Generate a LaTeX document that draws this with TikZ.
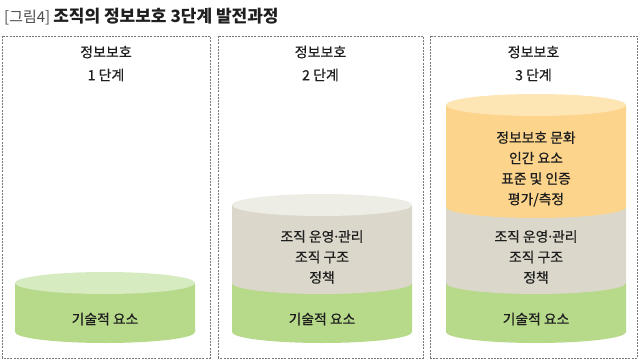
\documentclass[tikz,border=0pt]{standalone}
\usepackage{fontspec}
\setmainfont{Noto Sans CJK KR}
\newfontfamily\medfont[FakeBold=0.6]{Noto Sans CJK KR}
\usepackage{tikz}
\usetikzlibrary{positioning}
\definecolor{techgreen}{RGB}{183,217,138}
\definecolor{techgreentop}{RGB}{215,235,193}
\definecolor{orggray}{RGB}{219,216,203}
\definecolor{orggraytop}{RGB}{238,237,229}
\definecolor{cultureorange}{RGB}{253,212,140}
\definecolor{cultureorangetop}{RGB}{254,229,180}
\definecolor{framegray}{RGB}{120,120,120}
\definecolor{textdark}{RGB}{30,30,30}

% cylinder layer: centre x, top y, bottom y, colour
\newcommand{\cylside}[4]{\fill[#4] (#1-90,#2) -- (#1-90,#3) arc[start angle=180, end angle=360, x radius=90, y radius=11] -- (#1+90,#2) -- cycle;}
\newcommand{\cyltop}[3]{\fill[#3] (#1,#2) ellipse[x radius=90, y radius=11];}
\newcommand{\middot}{\kern-2pt·\kern-2pt}

\begin{document}
\begin{tikzpicture}[
			x=1pt, y=1pt,
			stagebox/.style={draw=framegray, line width=0.6pt, dash pattern=on 2pt off 1.2pt},
			stagelabel/.style={align=center, text=textdark, font=\medfont\fontsize{14}{23}\selectfont},
			layertext/.style={align=center, text=textdark, font=\medfont\fontsize{13.8}{20.5}\selectfont},
			title/.style={anchor=west, text=textdark, font=\fontsize{17}{19}\selectfont\bfseries}
		]
		\useasboundingbox (0,0) rectangle (640,360);
		
		% Title
		\node[title, inner sep=1pt] (title) at (3,343) {{\mdseries\fontsize{15}{17}\selectfont\color{black!70}[그림4]}\hspace{3pt}조직의 정보보호 3단계 발전과정};
		
		% Stage frames
		\draw[stagebox] (2,2) rectangle (210,324);
		\draw[stagebox] (218,2) rectangle (423,324);
		\draw[stagebox] (430,2) rectangle (637,324);
		\node[stagelabel] (stage1) at (106,296.5) {정보보호\\1 단계};
		\node[stagelabel] (stage2) at (320.5,296.5) {정보보호\\2 단계};
		\node[stagelabel] (stage3) at (533.5,296.5) {정보보호\\3 단계};
		
		% Stage 1 cylinder
		\cylside{105}{77}{28}{techgreen}
		\cyltop{105}{77}{techgreentop}
		\node[layertext] (tech1) at (105,41) {기술적 요소};
		
		% Stage 2 cylinder
		\cylside{322}{77}{28}{techgreen}
		\cylside{322}{155}{77}{orggray}
		\cyltop{322}{155}{orggraytop}
		\node[layertext] (org2) at (322,103) {조직 운영\middot 관리\\조직 구조\\정책};
		\node[layertext] (tech2) at (322,41) {기술적 요소};
		
		% Stage 3 cylinder
		\cylside{536}{77}{28}{techgreen}
		\cylside{536}{153}{77}{orggray}
		\cylside{536}{255}{153}{cultureorange}
		\cyltop{536}{255}{cultureorangetop}
		\node[layertext] (culture3) at (536,191) {정보보호 문화\\인간 요소\\표준 및 인증\\평가/측정};
		\node[layertext] (org3) at (536,103) {조직 운영\middot 관리\\조직 구조\\정책};
		\node[layertext] (tech3) at (536,41) {기술적 요소};
		\end{tikzpicture}
\end{document}
